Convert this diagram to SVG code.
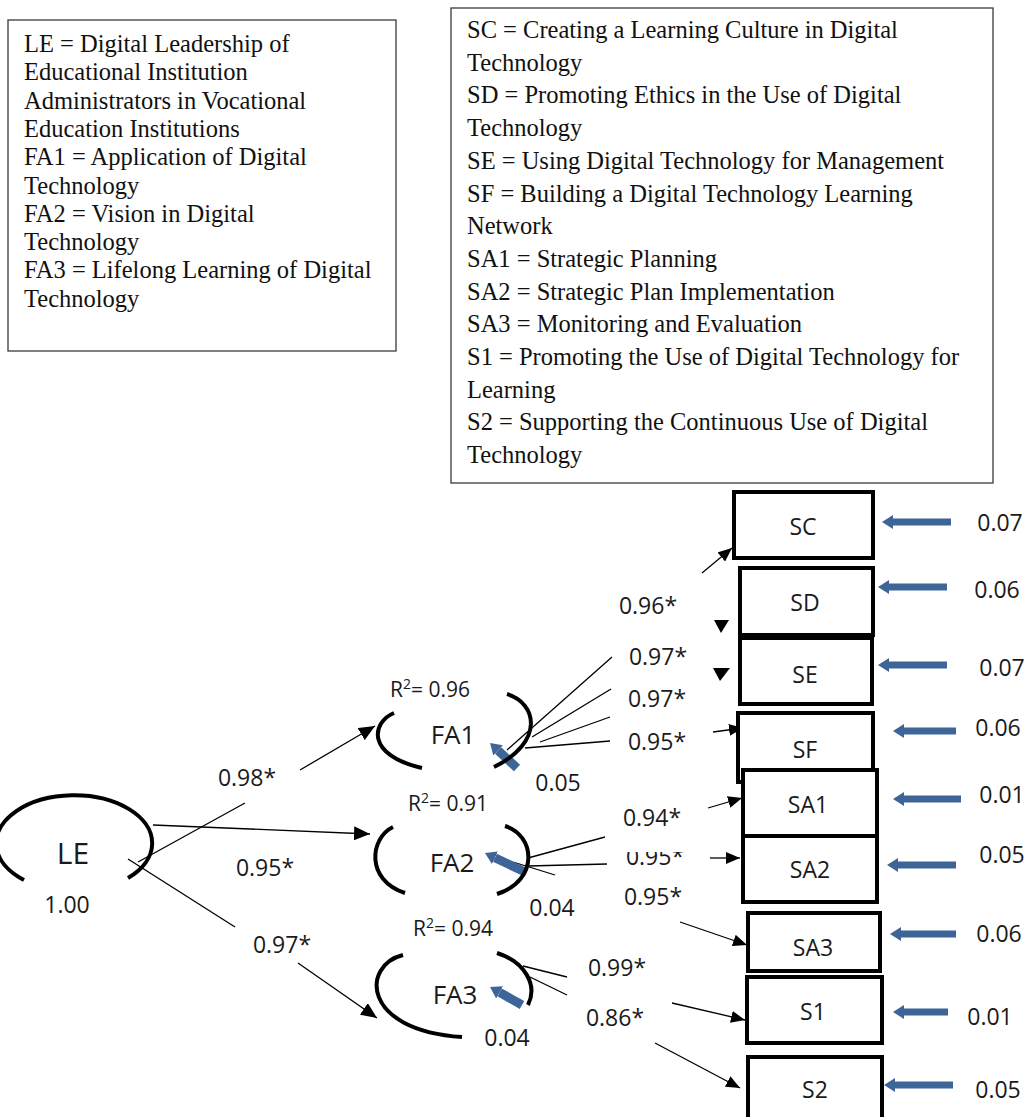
<svg xmlns="http://www.w3.org/2000/svg" width="1027" height="1117" viewBox="0 0 1027 1117">
<defs>
<marker id="ah" markerUnits="userSpaceOnUse" markerWidth="14" markerHeight="12" refX="14" refY="6" orient="auto"><path d="M0,0 L14,6 L0,12 z" fill="#000"/></marker>
<marker id="ahL" markerUnits="userSpaceOnUse" markerWidth="16" markerHeight="14" refX="16" refY="7" orient="auto"><path d="M0,0 L16,7 L0,14 z" fill="#000"/></marker>
<marker id="bh" markerUnits="userSpaceOnUse" markerWidth="11" markerHeight="14" refX="0" refY="7" orient="auto"><path d="M0,0 L11,7 L0,14 z" fill="#3E6597"/></marker>
<clipPath id="clipSA2"><rect x="615" y="852" width="90" height="30"/></clipPath>
</defs>
<style>
.leg{fill:none;stroke:#3a3a3a;stroke-width:1.3}
.tt{font-family:"Liberation Serif","Times New Roman",serif;font-size:24.5px;fill:#111}
.n{font-family:"Open Sans","Noto Sans",sans-serif;font-size:23px;fill:#1a1a1a;text-anchor:middle}
.r2{font-family:"Open Sans","Noto Sans",sans-serif;font-size:21px;fill:#1a1a1a}
.bx{fill:#fff;stroke:#000;stroke-width:4}
.bl{font-family:"Open Sans","Noto Sans",sans-serif;font-size:23px;fill:#1a1a1a;text-anchor:middle}
.fa{font-family:"Open Sans","Noto Sans",sans-serif;font-size:26px;fill:#1a1a1a;text-anchor:middle}
.arc{fill:none;stroke:#000;stroke-width:4}
.c{stroke:#000;stroke-width:1.3;fill:none}
.b{stroke:#3E6597;stroke-width:7;fill:none}
.bd{stroke:#3E6597;stroke-width:9;fill:none}
.tri{fill:#000}
</style>

<g id="legend-left">
<rect class="leg" x="8" y="20" width="388" height="331"/>
<text class="tt" x="24" y="52">LE = Digital Leadership of</text>
<text class="tt" x="24" y="80.3">Educational Institution</text>
<text class="tt" x="24" y="108.6">Administrators in Vocational</text>
<text class="tt" x="24" y="136.9">Education Institutions</text>
<text class="tt" x="24" y="165.2">FA1 = Application of Digital</text>
<text class="tt" x="24" y="193.5">Technology</text>
<text class="tt" x="24" y="221.8">FA2 = Vision in Digital</text>
<text class="tt" x="24" y="250.1">Technology</text>
<text class="tt" x="24" y="278.4">FA3 = Lifelong Learning of Digital</text>
<text class="tt" x="24" y="306.7">Technology</text>
</g>

<g id="legend-right">
<rect class="leg" x="451" y="8" width="542" height="475"/>
<text class="tt" x="467" y="38">SC = Creating a Learning Culture in Digital</text>
<text class="tt" x="467" y="70.7">Technology</text>
<text class="tt" x="467" y="103.4">SD = Promoting Ethics in the Use of Digital</text>
<text class="tt" x="467" y="136.1">Technology</text>
<text class="tt" x="467" y="168.8">SE = Using Digital Technology for Management</text>
<text class="tt" x="467" y="201.5">SF = Building a Digital Technology Learning</text>
<text class="tt" x="467" y="234.2">Network</text>
<text class="tt" x="467" y="266.9">SA1 = Strategic Planning</text>
<text class="tt" x="467" y="299.6">SA2 = Strategic Plan Implementation</text>
<text class="tt" x="467" y="332.3">SA3 = Monitoring and Evaluation</text>
<text class="tt" x="467" y="365">S1 = Promoting the Use of Digital Technology for</text>
<text class="tt" x="467" y="397.7">Learning</text>
<text class="tt" x="467" y="430.4">S2 = Supporting the Continuous Use of Digital</text>
<text class="tt" x="467" y="463.1">Technology</text>
</g>

<g id="connectors">
<!-- LE to FA1/FA2/FA3 -->
<line class="c" x1="138" y1="862" x2="245" y2="803"/>
<line class="c" x1="300" y1="770" x2="375" y2="726" marker-end="url(#ahL)"/>
<line class="c" x1="153" y1="825" x2="370" y2="834" marker-end="url(#ahL)"/>
<line class="c" x1="128" y1="859" x2="235" y2="927"/>
<line class="c" x1="298" y1="963" x2="377" y2="1018" marker-end="url(#ahL)"/>
<!-- FA1 to SC..SF -->
<line class="c" x1="507" y1="750" x2="612" y2="657"/>
<line class="c" x1="532" y1="737" x2="611" y2="689"/>
<line class="c" x1="540" y1="742" x2="610" y2="717"/>
<line class="c" x1="525" y1="748" x2="610" y2="741"/>
<line class="c" x1="702" y1="573" x2="732" y2="548" marker-end="url(#ah)"/>
<path class="tri" d="M714,620 L729,620 L721,633 z"/>
<path class="tri" d="M713,668 L730,668 L720,681 z"/>
<line class="c" x1="713" y1="732" x2="743" y2="728" marker-end="url(#ah)"/>
<!-- FA2 to SA1..SA3 -->
<line class="c" x1="528" y1="858" x2="605" y2="837"/>
<line class="c" x1="708" y1="808" x2="742" y2="798" marker-end="url(#ah)"/>
<line class="c" x1="528" y1="866" x2="607" y2="864"/>
<line class="c" x1="710" y1="858" x2="740" y2="858" marker-end="url(#ah)"/>
<line class="c" x1="513" y1="862" x2="555" y2="875"/>
<line class="c" x1="680" y1="922" x2="747" y2="945" marker-end="url(#ah)"/>
<!-- FA3 to S1, S2 -->
<line class="c" x1="523" y1="966" x2="567" y2="977"/>
<line class="c" x1="672" y1="1003" x2="745" y2="1020" marker-end="url(#ah)"/>
<line class="c" x1="530" y1="977" x2="567" y2="995"/>
<line class="c" x1="655" y1="1043" x2="740" y2="1088" marker-end="url(#ah)"/>
<!-- error arrows -->
<line class="bd" x1="517" y1="768" x2="498.1" y2="750.5" marker-end="url(#bh)"/>
<line class="bd" x1="525" y1="872" x2="494.9" y2="857.7" marker-end="url(#bh)"/>
<line class="bd" x1="522" y1="1005" x2="499.6" y2="992.4" marker-end="url(#bh)"/>
<line class="b" x1="951" y1="522" x2="893" y2="522" marker-end="url(#bh)"/>
<line class="b" x1="947" y1="587" x2="889" y2="587" marker-end="url(#bh)"/>
<line class="b" x1="947" y1="665" x2="889" y2="665" marker-end="url(#bh)"/>
<line class="b" x1="956" y1="731" x2="904" y2="731" marker-end="url(#bh)"/>
<line class="b" x1="961" y1="799" x2="904" y2="799" marker-end="url(#bh)"/>
<line class="b" x1="956" y1="865" x2="898" y2="865" marker-end="url(#bh)"/>
<line class="b" x1="956" y1="934" x2="901" y2="934" marker-end="url(#bh)"/>
<line class="b" x1="948" y1="1012" x2="904" y2="1012" marker-end="url(#bh)"/>
<line class="b" x1="953" y1="1085" x2="895" y2="1085" marker-end="url(#bh)"/>
</g>

<g id="coef-labels">
<text class="n" x="247" y="786">0.98*</text>
<text class="n" x="265" y="876">0.95*</text>
<text class="n" x="282" y="953">0.97*</text>
<text class="n" x="648" y="614">0.96*</text>
<text class="n" x="658" y="665">0.97*</text>
<text class="n" x="657" y="707">0.97*</text>
<text class="n" x="657" y="750">0.95*</text>
<text class="n" x="652" y="826">0.94*</text>
<text class="n" x="655" y="865" clip-path="url(#clipSA2)">0.95*</text>
<text class="n" x="653" y="905">0.95*</text>
<text class="n" x="617" y="976">0.99*</text>
<text class="n" x="615" y="1026">0.86*</text>
<text class="n" x="558" y="791">0.05</text>
<text class="n" x="552" y="916">0.04</text>
<text class="n" x="507" y="1046">0.04</text>
<text class="n" x="1000" y="531">0.07</text>
<text class="n" x="997" y="598">0.06</text>
<text class="n" x="1002" y="676">0.07</text>
<text class="n" x="998" y="736">0.06</text>
<text class="n" x="1002" y="803">0.01</text>
<text class="n" x="1002" y="863">0.05</text>
<text class="n" x="999" y="942">0.06</text>
<text class="n" x="990" y="1025">0.01</text>
<text class="n" x="998" y="1098">0.05</text>
</g>

<g id="LE">
<path class="arc" d="M24,880 A78,48 0 1 1 128,878"/>
<text class="fa" x="73" y="864" style="font-size:30px">LE</text>
<text class="n" x="67" y="913">1.00</text>
</g>

<g id="FA1">
<path class="arc" d="M394,713 C372,722 365,755 422,768"/>
<path class="arc" d="M507,694 C537,703 545,742 494,767"/>
<text class="fa" x="453" y="744">FA1</text>
<text class="r2" x="390" y="697">R<tspan dy="-8" font-size="14">2</tspan><tspan dy="8">= 0.96</tspan></text>
</g>

<g id="FA2">
<path class="arc" d="M393,827 C370,838 365,880 405,893"/>
<path class="arc" d="M505,826 C535,835 540,880 497,894"/>
<text class="fa" x="452" y="872">FA2</text>
<text class="r2" x="408" y="811">R<tspan dy="-8" font-size="14">2</tspan><tspan dy="8">= 0.91</tspan></text>
</g>

<g id="FA3">
<path class="arc" d="M403,955 C362,965 360,1030 462,1037"/>
<path class="arc" d="M497,953 C525,962 538,985 528,1005"/>
<text class="fa" x="455" y="1004">FA3</text>
<text class="r2" x="413" y="936">R<tspan dy="-8" font-size="14">2</tspan><tspan dy="8">= 0.94</tspan></text>
</g>

<g id="SC"><rect class="bx" x="734" y="492" width="139" height="66"/><text class="bl" x="803" y="535">SC</text></g>
<g id="SD"><rect class="bx" x="740" y="568" width="133" height="67"/><text class="bl" x="805" y="611">SD</text></g>
<g id="SE"><rect class="bx" x="740" y="638" width="132" height="66"/><text class="bl" x="805" y="683">SE</text></g>
<g id="SF"><rect class="bx" x="738" y="713" width="135" height="69"/><text class="bl" x="805" y="758">SF</text></g>
<g id="SA1"><rect class="bx" x="743" y="770" width="134" height="66"/><text class="bl" x="808" y="813">SA1</text></g>
<g id="SA2"><rect class="bx" x="743" y="836" width="134" height="66"/><text class="bl" x="810" y="878">SA2</text></g>
<g id="SA3"><rect class="bx" x="748" y="913" width="132" height="58"/><text class="bl" x="813" y="956">SA3</text></g>
<g id="S1"><rect class="bx" x="747" y="977" width="135" height="66"/><text class="bl" x="813" y="1020">S1</text></g>
<g id="S2"><rect class="bx" x="748" y="1057" width="134" height="70"/><text class="bl" x="815" y="1098">S2</text></g>
</svg>
